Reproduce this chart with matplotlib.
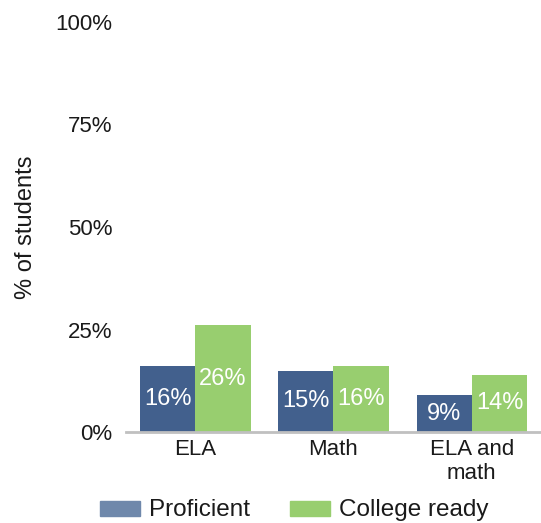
import matplotlib.pyplot as plt
import numpy as np
from matplotlib.patches import Rectangle

plt.rcParams['font.family'] = ['Liberation Sans', 'DejaVu Sans']

categories = ['ELA', 'Math', 'ELA and\nmath']
proficient = [16, 15, 9]
college_ready = [26, 16, 14]
yticks = [0, 25, 50, 75, 100]

blue = '#42608d'
blue_legend = '#6f88ab'
green = '#98ce6f'
txt = '#1a1a1a'

fig = plt.figure(figsize=(5.41, 5.23), dpi=100)
ax = fig.add_axes([126 / 541, 91 / 523, 415 / 541, 410 / 523])

x = np.arange(len(categories))
w = 0.4
b1 = ax.bar(x - w / 2, proficient, w, color=blue)
b2 = ax.bar(x + w / 2, college_ready, w, color=green)

for bars, vals in [(b1, proficient), (b2, college_ready)]:
    for bar, v in zip(bars, vals):
        ax.text(bar.get_x() + bar.get_width() / 2, v / 2, f'{v}%',
                ha='center', va='center', color='white', fontsize=17)

ax.set_xlim(-0.5, len(categories) - 0.5)
ax.set_ylim(0, 100)
ax.set_yticks(yticks)
ax.set_yticklabels([f'{t}%' for t in yticks], fontsize=16, color=txt)
ax.set_xticks(x)
ax.set_xticklabels(categories, fontsize=16, color=txt, linespacing=1.2)
ax.tick_params(axis='y', length=0, pad=10)
ax.tick_params(axis='x', length=0, pad=5)
ax.set_ylabel('% of students', fontsize=17, color=txt)
ax.yaxis.set_label_coords(-0.2145, 0.5)

for s in ['top', 'right', 'left']:
    ax.spines[s].set_visible(False)
ax.spines['bottom'].set_color('#c0c0c0')
ax.spines['bottom'].set_linewidth(2)

# legend drawn by hand to keep the reference layout
fig.patches.append(Rectangle((100 / 541, 7 / 523), 40 / 541, 15 / 523,
                             transform=fig.transFigure, color=blue_legend))
fig.text(149 / 541, 13 / 523, 'Proficient', fontsize=17.5, va='center', color=txt)
fig.patches.append(Rectangle((290 / 541, 7 / 523), 40 / 541, 15 / 523,
                             transform=fig.transFigure, color=green))
fig.text(339 / 541, 13 / 523, 'College ready', fontsize=17.5, va='center', color=txt)

fig.savefig('out.png', dpi=100)
